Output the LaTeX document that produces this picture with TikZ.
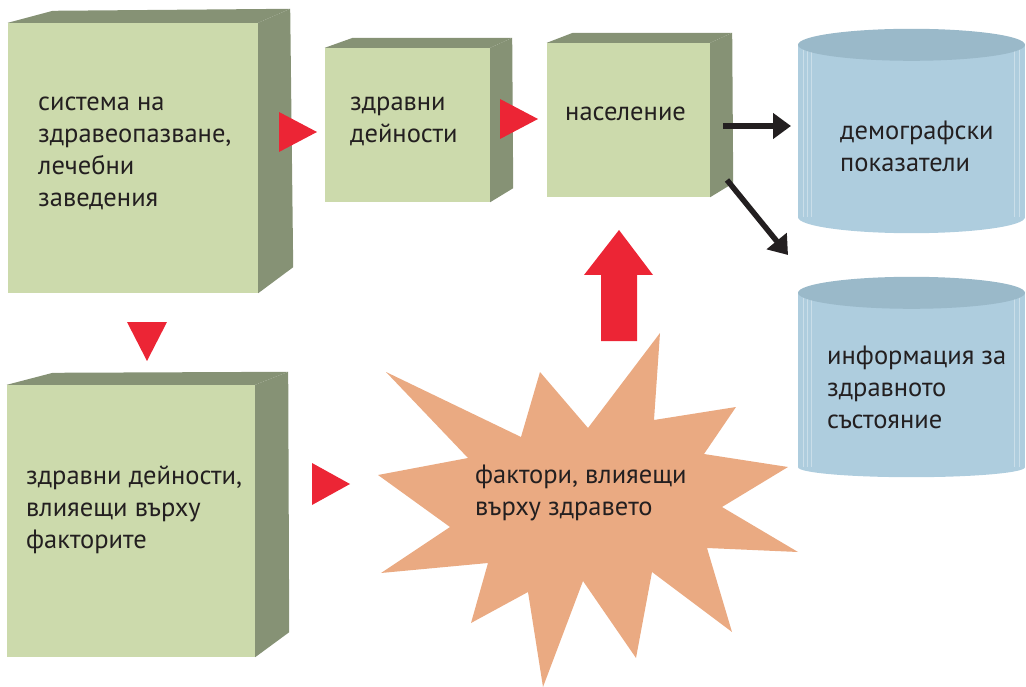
\documentclass[tikz,border=0pt]{standalone}
\usepackage{fontspec}
\setmainfont{PT Sans}
\usetikzlibrary{arrows.meta}
\definecolor{boxfront}{RGB}{204,218,172}
\definecolor{boxside}{RGB}{134,146,117}
\definecolor{tipred}{RGB}{236,37,53}
\definecolor{cylside}{RGB}{174,205,222}
\definecolor{cyltop}{RGB}{154,185,201}
\definecolor{burstfill}{RGB}{234,170,130}
\definecolor{textdark}{RGB}{35,31,32}

\begin{document}
\begin{tikzpicture}[x=1pt,y=-1pt]
\tikzset{
  frontface/.style={rectangle,fill=boxfront,inner sep=0pt},
  sideface/.style={fill=boxside},
  boxtext/.style={anchor=west,align=left,inner sep=0pt,text=textdark,font=\fontsize{26.5}{32}\selectfont},
  redtip/.style={fill=tipred},
  flowarrow/.style={-{Triangle[length=18pt,width=25pt]},line width=5.5pt,draw=textdark},
  cylbody/.style={rectangle,fill=cylside,inner sep=0pt,minimum width=227pt},
  streak/.style={draw=white,opacity=0.35,line width=0.6pt}
}
\useasboundingbox (0,0) rectangle (1026,687);

% boxes
\node[frontface,minimum width=250pt,minimum height=270pt] (sysbox) at (133,158) {};
\node[frontface,minimum width=165pt,minimum height=154pt] (actbox) at (407.5,125) {};
\node[frontface,minimum width=163pt,minimum height=154pt] (popbox) at (628.5,120) {};
\node[frontface,minimum width=248pt,minimum height=272pt] (infbox) at (131,521) {};

\fill[sideface] (sysbox.north west) -- ++(45,-12) -- ([shift={(32,-14)}]sysbox.north east) -- (sysbox.north east) -- cycle;
\fill[sideface] (sysbox.north east) -- ([shift={(32,-14)}]sysbox.north east) -- ([shift={(35,-26)}]sysbox.south east) -- (sysbox.south east) -- cycle;
\fill[sideface] (actbox.north west) -- ++(28,-10) -- ([shift={(22,-10)}]actbox.north east) -- (actbox.north east) -- cycle;
\fill[sideface] (actbox.north east) -- ([shift={(22,-10)}]actbox.north east) -- ([shift={(23,-14)}]actbox.south east) -- (actbox.south east) -- cycle;
\fill[sideface] (popbox.north west) -- ++(26,-10) -- ([shift={(22,-10)}]popbox.north east) -- (popbox.north east) -- cycle;
\fill[sideface] (popbox.north east) -- ([shift={(22,-10)}]popbox.north east) -- ([shift={(23,-14)}]popbox.south east) -- (popbox.south east) -- cycle;
\fill[sideface] (infbox.north west) -- ++(46,-12) -- ([shift={(33,-13)}]infbox.north east) -- (infbox.north east) -- cycle;
\fill[sideface] (infbox.north east) -- ([shift={(33,-13)}]infbox.north east) -- ([shift={(34,-25)}]infbox.south east) -- (infbox.south east) -- cycle;

\node[boxtext] (systxt) at (38,153) {система на\\здравеопазване,\\лечебни\\заведения};
\node[boxtext] (acttxt) at (350,121) {здравни\\дейности};
\node[boxtext] (poptxt) at (565,114) {население};
\node[boxtext] (inftxt) at (26,510) {здравни дейности,\\влияещи върху\\факторите};

% cylinders
\node[cylbody,minimum height=172pt] (demo) at (911.5,131) {};
\node[cylbody,minimum height=174pt] (state) at (911.5,380) {};
\fill[cylside] (demo.south) ellipse [x radius=113.5,y radius=16];
\fill[cylside] (state.south) ellipse [x radius=113.5,y radius=10];
\foreach \cyl in {demo,state}{
  \foreach \dx in {5,9,13}
    \draw[streak] ([xshift=\dx pt]\cyl.north west) -- ([xshift=\dx pt]\cyl.south west);
  \foreach \dx in {-6,-11}
    \draw[streak] ([xshift=\dx pt]\cyl.north east) -- ([xshift=\dx pt]\cyl.south east);
}
\fill[cyltop] (demo.north) ellipse [x radius=113.5,y radius=16];
\fill[cyltop] (state.north) ellipse [x radius=113.5,y radius=16];
\node[boxtext] (demotxt) at (840,146) {демографски\\показатели};
\node[boxtext] (statetxt) at (827,387) {информация за\\здравното\\състояние};

% factors
\fill[burstfill] (386,372) -- (521,437) -- (540,372) -- (588,428) -- (660,333) -- (654,420)
  -- (736,407) -- (704,454) -- (788,467) -- (722,507) -- (798,552) -- (707,548)
  -- (732,632) -- (652,572) -- (636,658) -- (583,581) -- (543,687) -- (528,592)
  -- (471,623) -- (488,563) -- (381,573) -- (450,527) -- (378,475) -- (468,458) -- cycle;
\node[boxtext] (factxt) at (475,493) {фактори, влияещи\\върху здравето};

% red tips
\fill[redtip] (279,112) -- (279,152) -- (317,132) -- cycle;
\fill[redtip] (500,99) -- (500,139) -- (538,119) -- cycle;
\fill[redtip] (127,322) -- (167,322) -- (147,361) -- cycle;
\fill[redtip] (312,463) -- (312,505) -- (350,484) -- cycle;
\fill[redtip] (601,341) -- (637,341) -- (637,275) -- (653,275) -- (619,230) -- (584,275) -- (601,275) -- cycle;

% arrows
\coordinate (popout1) at (723,126);
\coordinate (popout2) at (727,180);
\coordinate (demoin) at (791,126);
\coordinate (statein) at (788,255);
\draw[flowarrow] (popout1) -- (demoin);
\draw[flowarrow] (popout2) -- (statein);
\end{tikzpicture}
\end{document}
